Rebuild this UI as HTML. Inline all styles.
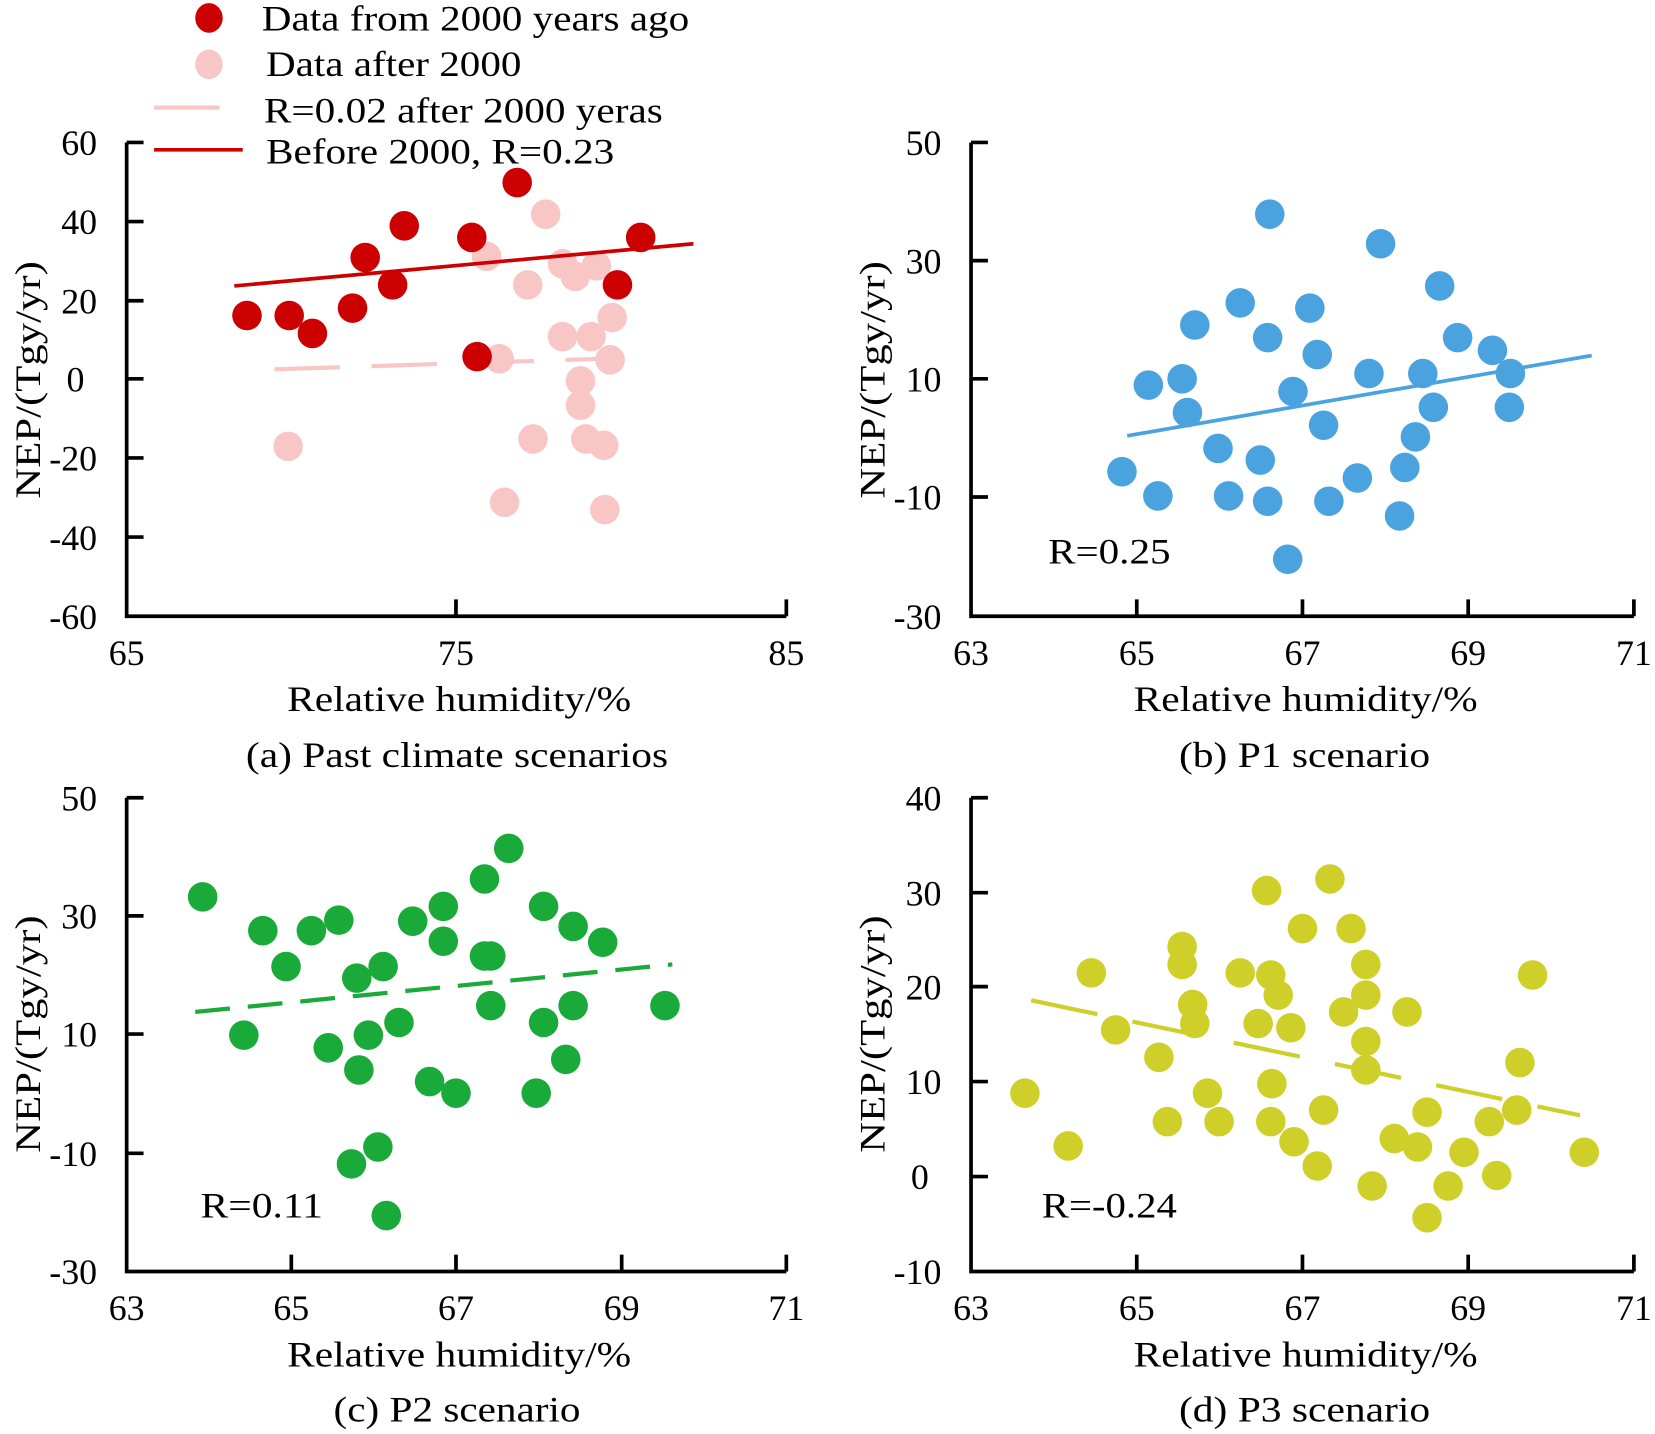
<!DOCTYPE html>
<html><head><meta charset="utf-8"><style>html,body{margin:0;padding:0;background:#fff}svg{display:block;font-family:"Liberation Serif","Times New Roman",serif}</style></head>
<body>
<svg width="1655" height="1434" viewBox="0 0 1568 1359" preserveAspectRatio="none" xmlns="http://www.w3.org/2000/svg" font-family="'Liberation Serif', serif" font-size="34" fill="#000">
<rect width="1568" height="1359" fill="#fff"/>
<g stroke="#000" stroke-width="3.5" fill="none">
<path d="M120 135 V584 H745"/>
<path d="M120 135h16M120 210h16M120 285h16M120 359h16M120 434h16M120 509h16M432 584v-16M745 584v-16"/>
<path d="M920 135 V584 H1548"/>
<path d="M920 135h16M920 247h16M920 359h16M920 471h16M1077 584v-16M1234 584v-16M1391 584v-16M1548 584v-16"/>
<path d="M120 756 V1205 H745"/>
<path d="M120 756h16M120 868h16M120 980h16M120 1093h16M276 1205v-16M432 1205v-16M589 1205v-16M745 1205v-16"/>
<path d="M920 756 V1205 H1548"/>
<path d="M920 756h16M920 846h16M920 935h16M920 1025h16M920 1115h16M1077 1205v-16M1234 1205v-16M1391 1205v-16M1548 1205v-16"/>
</g>
<g text-anchor="end">
<text x="92" y="147">60</text><text x="92" y="222">40</text><text x="92" y="297">20</text><text x="80" y="371">0</text><text x="92" y="446">-20</text><text x="92" y="521">-40</text><text x="92" y="596">-60</text>
<text x="892" y="147">50</text><text x="892" y="259">30</text><text x="892" y="371">10</text><text x="892" y="483">-10</text><text x="892" y="596">-30</text>
<text x="92" y="768">50</text><text x="92" y="880">30</text><text x="92" y="992">10</text><text x="92" y="1105">-10</text><text x="92" y="1217">-30</text>
<text x="892" y="768">40</text><text x="892" y="858">30</text><text x="892" y="947">20</text><text x="892" y="1037">10</text><text x="880" y="1127">0</text><text x="892" y="1217">-10</text>
</g>
<g text-anchor="middle">
<text x="120" y="630">65</text><text x="432" y="630">75</text><text x="745" y="630">85</text>
<text x="920" y="630">63</text><text x="1077" y="630">65</text><text x="1234" y="630">67</text><text x="1391" y="630">69</text><text x="1548" y="630">71</text>
<text x="120" y="1251">63</text><text x="276" y="1251">65</text><text x="432" y="1251">67</text><text x="589" y="1251">69</text><text x="745" y="1251">71</text>
<text x="920" y="1251">63</text><text x="1077" y="1251">65</text><text x="1234" y="1251">67</text><text x="1391" y="1251">69</text><text x="1548" y="1251">71</text>
</g>
<g>
<text x="272" y="674" textLength="326" lengthAdjust="spacingAndGlyphs">Relative humidity/%</text>
<text x="1074" y="674" textLength="326" lengthAdjust="spacingAndGlyphs">Relative humidity/%</text>
<text x="272" y="1295" textLength="326" lengthAdjust="spacingAndGlyphs">Relative humidity/%</text>
<text x="1074" y="1295" textLength="326" lengthAdjust="spacingAndGlyphs">Relative humidity/%</text>
<text x="233" y="727" textLength="400" lengthAdjust="spacingAndGlyphs">(a) Past climate scenarios</text>
<text x="1117" y="727" textLength="238" lengthAdjust="spacingAndGlyphs">(b) P1 scenario</text>
<text x="316" y="1347" textLength="234" lengthAdjust="spacingAndGlyphs">(c) P2 scenario</text>
<text x="1117" y="1347" textLength="238" lengthAdjust="spacingAndGlyphs">(d) P3 scenario</text>
<text transform="translate(38,360) rotate(-90)" text-anchor="middle" textLength="225" lengthAdjust="spacingAndGlyphs">NEP/(Tgy/yr)</text>
<text transform="translate(838,360) rotate(-90)" text-anchor="middle" textLength="225" lengthAdjust="spacingAndGlyphs">NEP/(Tgy/yr)</text>
<text transform="translate(38,980) rotate(-90)" text-anchor="middle" textLength="225" lengthAdjust="spacingAndGlyphs">NEP/(Tgy/yr)</text>
<text transform="translate(838,980) rotate(-90)" text-anchor="middle" textLength="225" lengthAdjust="spacingAndGlyphs">NEP/(Tgy/yr)</text>
<text x="993" y="534" textLength="116" lengthAdjust="spacingAndGlyphs">R=0.25</text>
<text x="190" y="1154" textLength="116" lengthAdjust="spacingAndGlyphs">R=0.11</text>
<text x="987" y="1154" textLength="128" lengthAdjust="spacingAndGlyphs">R=-0.24</text>
<text x="248" y="29" textLength="405" lengthAdjust="spacingAndGlyphs">Data from 2000 years ago</text>
<text x="252" y="72" textLength="242" lengthAdjust="spacingAndGlyphs">Data after 2000</text>
<text x="250" y="116" textLength="378" lengthAdjust="spacingAndGlyphs">R=0.02 after 2000 yeras</text>
<text x="252" y="155" textLength="330" lengthAdjust="spacingAndGlyphs">Before 2000, R=0.23</text>
</g>
<ellipse cx="198" cy="17" rx="13" ry="14" fill="#cc0000"/>
<ellipse cx="198" cy="61" rx="13" ry="14" fill="#f9c6c6"/>
<line x1="146" y1="102" x2="208" y2="102" stroke="#f9c6c6" stroke-width="4"/>
<line x1="146" y1="142" x2="230" y2="142" stroke="#cc0000" stroke-width="3.5"/>
<g fill="#f9c6c6">
<circle cx="273" cy="423" r="14"/><circle cx="461" cy="243" r="14"/><circle cx="517" cy="203" r="14"/><circle cx="500" cy="270" r="14"/><circle cx="533" cy="250" r="14"/><circle cx="545" cy="262" r="14"/><circle cx="565" cy="252" r="14"/><circle cx="580" cy="301" r="14"/><circle cx="533" cy="319" r="14"/><circle cx="560" cy="319" r="14"/><circle cx="550" cy="361" r="14"/><circle cx="550" cy="384" r="14"/><circle cx="578" cy="341" r="14"/><circle cx="473" cy="340" r="14"/><circle cx="505" cy="416" r="14"/><circle cx="555" cy="416" r="14"/><circle cx="572" cy="422" r="14"/><circle cx="478" cy="476" r="14"/><circle cx="573" cy="483" r="14"/>
</g>
<line x1="260" y1="350" x2="570" y2="340" stroke="#f9c6c6" stroke-width="4" stroke-dasharray="62,30"/>
<g fill="#cc0000">
<circle cx="234" cy="299" r="14"/><circle cx="274" cy="299" r="14"/><circle cx="296" cy="316" r="14"/><circle cx="334" cy="292" r="14"/><circle cx="346" cy="244" r="14"/><circle cx="372" cy="270" r="14"/><circle cx="383" cy="214" r="14"/><circle cx="447" cy="225" r="14"/><circle cx="490" cy="173" r="14"/><circle cx="607" cy="225" r="14"/><circle cx="585" cy="270" r="14"/><circle cx="452" cy="338" r="14"/>
</g>
<line x1="222" y1="271" x2="657" y2="231" stroke="#cc0000" stroke-width="3.5"/>
<g fill="#4aa3df">
<circle cx="1203" cy="203" r="14"/><circle cx="1308" cy="231" r="14"/><circle cx="1364" cy="271" r="14"/><circle cx="1175" cy="287" r="14"/><circle cx="1241" cy="292" r="14"/><circle cx="1132" cy="308" r="14"/><circle cx="1201" cy="320" r="14"/><circle cx="1381" cy="320" r="14"/><circle cx="1414" cy="332" r="14"/><circle cx="1248" cy="336" r="14"/><circle cx="1088" cy="365" r="14"/><circle cx="1120" cy="359" r="14"/><circle cx="1297" cy="354" r="14"/><circle cx="1348" cy="354" r="14"/><circle cx="1431" cy="354" r="14"/><circle cx="1225" cy="371" r="14"/><circle cx="1125" cy="391" r="14"/><circle cx="1358" cy="386" r="14"/><circle cx="1430" cy="386" r="14"/><circle cx="1254" cy="403" r="14"/><circle cx="1154" cy="425" r="14"/><circle cx="1341" cy="414" r="14"/><circle cx="1194" cy="436" r="14"/><circle cx="1331" cy="443" r="14"/><circle cx="1063" cy="447" r="14"/><circle cx="1286" cy="453" r="14"/><circle cx="1097" cy="470" r="14"/><circle cx="1164" cy="470" r="14"/><circle cx="1201" cy="475" r="14"/><circle cx="1259" cy="475" r="14"/><circle cx="1326" cy="489" r="14"/><circle cx="1220" cy="530" r="14"/>
</g>
<line x1="1068" y1="413" x2="1508" y2="337" stroke="#4aa3df" stroke-width="3.5"/>
<g fill="#1aaa3a">
<circle cx="192" cy="850" r="14"/><circle cx="482" cy="804" r="14"/><circle cx="459" cy="833" r="14"/><circle cx="249" cy="882" r="14"/><circle cx="295" cy="882" r="14"/><circle cx="321" cy="872" r="14"/><circle cx="420" cy="859" r="14"/><circle cx="391" cy="873" r="14"/><circle cx="515" cy="859" r="14"/><circle cx="543" cy="878" r="14"/><circle cx="420" cy="892" r="14"/><circle cx="571" cy="893" r="14"/><circle cx="271" cy="916" r="14"/><circle cx="363" cy="916" r="14"/><circle cx="338" cy="927" r="14"/><circle cx="459" cy="906" r="14"/><circle cx="465" cy="906" r="14"/><circle cx="231" cy="981" r="14"/><circle cx="378" cy="969" r="14"/><circle cx="349" cy="981" r="14"/><circle cx="465" cy="953" r="14"/><circle cx="543" cy="953" r="14"/><circle cx="630" cy="953" r="14"/><circle cx="515" cy="969" r="14"/><circle cx="311" cy="993" r="14"/><circle cx="340" cy="1014" r="14"/><circle cx="536" cy="1004" r="14"/><circle cx="407" cy="1025" r="14"/><circle cx="432" cy="1036" r="14"/><circle cx="508" cy="1036" r="14"/><circle cx="333" cy="1103" r="14"/><circle cx="358" cy="1087" r="14"/><circle cx="366" cy="1152" r="14"/>
</g>
<line x1="185" y1="959" x2="637" y2="914" stroke="#1aaa3a" stroke-width="4" stroke-dasharray="33,17"/>
<g fill="#cfcf2a">
<circle cx="1260" cy="833" r="14"/><circle cx="1200" cy="844" r="14"/><circle cx="1234" cy="880" r="14"/><circle cx="1280" cy="880" r="14"/><circle cx="1120" cy="897" r="14"/><circle cx="1120" cy="914" r="14"/><circle cx="1294" cy="914" r="14"/><circle cx="1034" cy="922" r="14"/><circle cx="1175" cy="922" r="14"/><circle cx="1204" cy="924" r="14"/><circle cx="1452" cy="924" r="14"/><circle cx="1211" cy="943" r="14"/><circle cx="1130" cy="952" r="14"/><circle cx="1273" cy="959" r="14"/><circle cx="1294" cy="943" r="14"/><circle cx="1132" cy="970" r="14"/><circle cx="1192" cy="970" r="14"/><circle cx="1223" cy="974" r="14"/><circle cx="1333" cy="959" r="14"/><circle cx="1057" cy="976" r="14"/><circle cx="1294" cy="987" r="14"/><circle cx="1098" cy="1002" r="14"/><circle cx="1294" cy="1014" r="14"/><circle cx="1440" cy="1007" r="14"/><circle cx="1205" cy="1027" r="14"/><circle cx="1144" cy="1036" r="14"/><circle cx="971" cy="1036" r="14"/><circle cx="1155" cy="1063" r="14"/><circle cx="1106" cy="1063" r="14"/><circle cx="1204" cy="1063" r="14"/><circle cx="1254" cy="1052" r="14"/><circle cx="1411" cy="1063" r="14"/><circle cx="1437" cy="1052" r="14"/><circle cx="1352" cy="1054" r="14"/><circle cx="1226" cy="1082" r="14"/><circle cx="1321" cy="1079" r="14"/><circle cx="1343" cy="1087" r="14"/><circle cx="1012" cy="1086" r="14"/><circle cx="1387" cy="1092" r="14"/><circle cx="1501" cy="1092" r="14"/><circle cx="1248" cy="1105" r="14"/><circle cx="1418" cy="1114" r="14"/><circle cx="1300" cy="1124" r="14"/><circle cx="1372" cy="1124" r="14"/><circle cx="1352" cy="1154" r="14"/>
</g>
<line x1="977" y1="948" x2="1497" y2="1057" stroke="#cfcf2a" stroke-width="4" stroke-dasharray="64,34"/>
</svg>
</body></html>
